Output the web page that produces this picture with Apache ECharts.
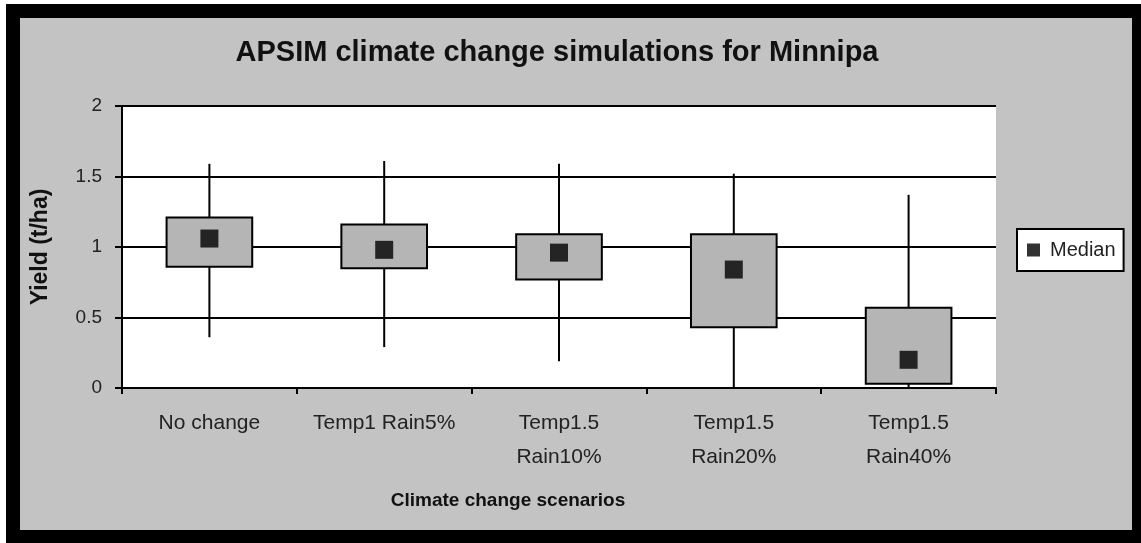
<!DOCTYPE html>
<html>
<head>
    <meta charset="UTF-8">
    <title>APSIM climate change simulations for Minnipa</title>
    <script src="https://cdn.jsdelivr.net/npm/echarts@6/dist/echarts.min.js"></script>
    <style>
        body { margin: 0; background: #fff; }
        #frame { position: absolute; left: 6px; top: 4px; width: 1135px; height: 539px; background: #000; }
        #inner { position: absolute; left: 14px; top: 14px; width: 1112px; height: 512px; background: #c3c3c3; }
        #chart { position: absolute; left: 0; top: 0; width: 1141px; height: 543px; }
    </style>
</head>
<body>
    <div id="frame"><div id="inner"></div></div>
    <div id="chart"></div>

    <script>
        // values (t/ha)
        const scenarios = ['No change', 'Temp1 Rain5%', 'Temp1.5\nRain10%', 'Temp1.5\nRain20%', 'Temp1.5\nRain40%'];
        const minYield = [0.36, 0.29, 0.19, 0, 0];
        const q1Yield = [0.86, 0.85, 0.77, 0.43, 0.03];
        const medianYield = [1.06, 0.98, 0.96, 0.84, 0.20];
        const q3Yield = [1.21, 1.16, 1.09, 1.09, 0.57];
        const maxYield = [1.59, 1.61, 1.59, 1.52, 1.37];

        const boxData = scenarios.map((s, i) => [i, minYield[i], q1Yield[i], q3Yield[i], maxYield[i]]);

        const sans = "'Liberation Sans', Arial, sans-serif";

        const myChart = echarts.init(document.getElementById('chart'));

        const option = {
            backgroundColor: 'transparent',
            animation: false,
            title: [{
                text: 'APSIM climate change simulations for Minnipa',
                left: 557, top: 38, padding: 0,
                textAlign: 'center',
                textStyle: { fontFamily: sans, fontSize: 29, fontWeight: 'bold', color: '#111' }
            }, {
                text: 'Climate change scenarios',
                left: 508, top: 491, padding: 0,
                textAlign: 'center',
                textStyle: { fontFamily: sans, fontSize: 19, fontWeight: 'bold', color: '#111' }
            }],
            legend: {
                data: ['Median'],
                left: 1017, top: 229,
                padding: [11, 8, 11, 10],
                itemWidth: 13, itemHeight: 13,
                icon: 'rect',
                backgroundColor: '#fff',
                borderColor: '#000',
                borderWidth: 2,
                textStyle: { fontFamily: sans, fontSize: 20, color: '#222', padding: [0, 0, 0, 5] }
            },
            grid: {
                left: 122, top: 106, right: 145, bottom: 155,
                show: true, backgroundColor: '#fff', borderWidth: 0
            },
            xAxis: {
                type: 'category',
                data: scenarios,
                boundaryGap: true,
                axisLine: { lineStyle: { color: '#000', width: 2 } },
                axisTick: { show: true, length: 6, lineStyle: { color: '#000', width: 2 } },
                axisLabel: {
                    margin: 18, interval: 0,
                    fontFamily: sans, fontSize: 21, lineHeight: 34, color: '#222'
                },
                splitLine: { show: false }
            },
            yAxis: {
                type: 'value',
                min: 0, max: 2, interval: 0.5,
                name: 'Yield (t/ha)',
                nameLocation: 'middle',
                nameRotate: 90,
                nameGap: 70,
                nameTextStyle: { fontFamily: sans, fontSize: 23, fontWeight: 'bold', color: '#111' },
                axisLine: { show: true, lineStyle: { color: '#000', width: 2 } },
                axisTick: { show: true, length: 7, lineStyle: { color: '#000', width: 2 } },
                axisLabel: { margin: 20, fontFamily: sans, fontSize: 19, color: '#222' },
                splitLine: { show: true, lineStyle: { color: '#000', width: 2 } }
            },
            series: [{
                name: 'Range',
                type: 'custom',
                data: boxData,
                encode: { x: 0, y: [1, 2, 3, 4] },
                z: 3,
                renderItem: function (params, api) {
                    const x = api.value(0);
                    const lo = api.coord([x, api.value(1)]);
                    const q1 = api.coord([x, api.value(2)]);
                    const q3 = api.coord([x, api.value(3)]);
                    const hi = api.coord([x, api.value(4)]);
                    const w = api.size([1, 0])[0] * 0.49;
                    return {
                        type: 'group',
                        children: [{
                            type: 'line',
                            shape: { x1: lo[0], y1: lo[1], x2: hi[0], y2: hi[1] },
                            style: { stroke: '#000', lineWidth: 2 }
                        }, {
                            type: 'rect',
                            shape: { x: q3[0] - w / 2, y: q3[1], width: w, height: q1[1] - q3[1] },
                            style: { fill: '#b5b5b5', stroke: '#000', lineWidth: 2 }
                        }]
                    };
                }
            }, {
                name: 'Median',
                type: 'scatter',
                data: medianYield,
                symbol: 'rect',
                symbolSize: 18,
                z: 5,
                itemStyle: { color: '#000' }
            }]
        };

        myChart.setOption(option);
    </script>
</body>
</html>
